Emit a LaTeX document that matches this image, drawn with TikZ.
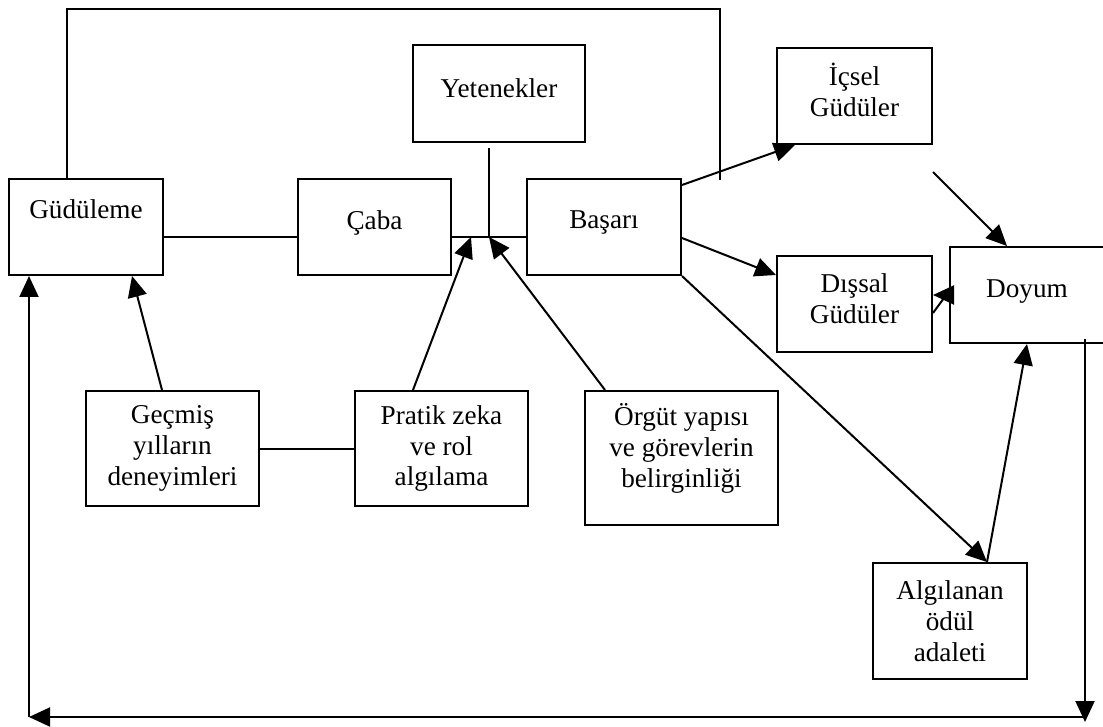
\documentclass[tikz,border=0pt]{standalone}
\usepackage{fontspec}
\setmainfont{Liberation Serif}
\usetikzlibrary{arrows.meta}

\tikzset{
  kutu/.style={draw, line width=1pt, inner sep=0pt, align=center,
    minimum width=77pt, minimum height=48pt,
    font=\fontsize{13.6}{15.4}\selectfont},
  ok/.style={line width=1pt, -{Triangle[length=10.5pt,width=9.5pt]}},
  cizgi/.style={line width=1pt}
}

\begin{document}
\begin{tikzpicture}[x=0.5pt,y=-0.5pt]
  \useasboundingbox (0,0) rectangle (1103,727);

  \node[kutu] (gud) at (86,227) {Güdüleme\\[3pt]\mbox{}};
  \node[kutu, minimum width=76.5pt, text depth=7pt] (caba) at (374.5,227) {Çaba};
  \node[kutu, minimum width=86pt, minimum height=48.5pt, text depth=5.5pt] (yet) at (499,93.5) {Yetenekler};
  \node[kutu, text depth=7pt] (basari) at (604,227) {Başarı};
  \node[kutu, minimum width=77.5pt, text depth=6pt] (icsel) at (854.5,96) {İçsel\\Güdüler};
  \node[kutu, minimum width=77.5pt, text depth=5.5pt] (dissal) at (854.5,304) {Dışsal\\Güdüler};
  \node[kutu, text depth=6pt] (doyum) at (1027,295) {Doyum};
  \node[kutu, minimum width=86.5pt, minimum height=57.5pt] (gecmis) at (172.5,448.5) {Geçmiş\\yılların\\deneyimleri};
  \node[kutu, minimum width=86.5pt, minimum height=57.5pt] (pratik) at (441.5,448.5) {Pratik zeka\\ve rol\\algılama};
  \node[kutu, minimum width=96.5pt, minimum height=67pt] (orgut) at (681.5,458) {Örgüt yapısı\\ve görevlerin\\belirginliği\\[-3pt]\mbox{}};
  \node[kutu, minimum height=58pt] (algi) at (950,621) {Algılanan\\ödül\\adaleti};

  \coordinate (kav) at (489,237);
  \coordinate (ustsag) at (720,180);
  \coordinate (altsag) at (1085,717);
  \coordinate (altsol) at (29,717);

  \draw[cizgi] ([xshift=-9.5pt]gud.north) |- (ustsag |- 0,9) -- (ustsag);
  \draw[cizgi] (gud.east |- kav) -- (caba.west |- kav);
  \draw[cizgi] (caba.east |- kav) -- (basari.west |- kav);
  \draw[cizgi] ([yshift=-2.5pt]yet.south -| kav) -- (kav);
  \draw[cizgi] (gecmis.east) -- (pratik.west);

  \draw[ok] ([xshift=-5.25pt]gecmis.north) -- ([xshift=23pt]gud.south);
  \draw[ok] ([xshift=-14.25pt]pratik.north) -- ([xshift=-9pt]kav);
  \draw[ok] ([xshift=-38.25pt]orgut.north) -- (kav);

  \draw[ok] ([yshift=21pt]basari.east) -- ([xshift=9.5pt]icsel.south west);
  \draw[ok] ([yshift=-5.5pt]basari.east) -- ([yshift=14.5pt]dissal.west);
  \draw[ok] (basari.south east) -- ([xshift=18.5pt]algi.north);
  \draw[ok] ([yshift=-13.5pt]icsel.south east) -- ([xshift=-10pt]doyum.north);
  \draw[ok] (doyum.west) -- (doyum.west -| dissal.east);
  \draw[cizgi] ([yshift=-4.5pt]dissal.east) -- ++(5.5pt,7.5pt);
  \draw[ok] ([xshift=18.5pt]algi.north) -- (doyum.south);

  \draw[ok] ([yshift=2.5pt]doyum.south -| altsag) -- ([yshift=-2.5pt]altsag);
  \draw[ok] (altsag) -- (altsol);
  \draw[ok] (altsol) -- (gud.south -| altsol);
\end{tikzpicture}
\end{document}
